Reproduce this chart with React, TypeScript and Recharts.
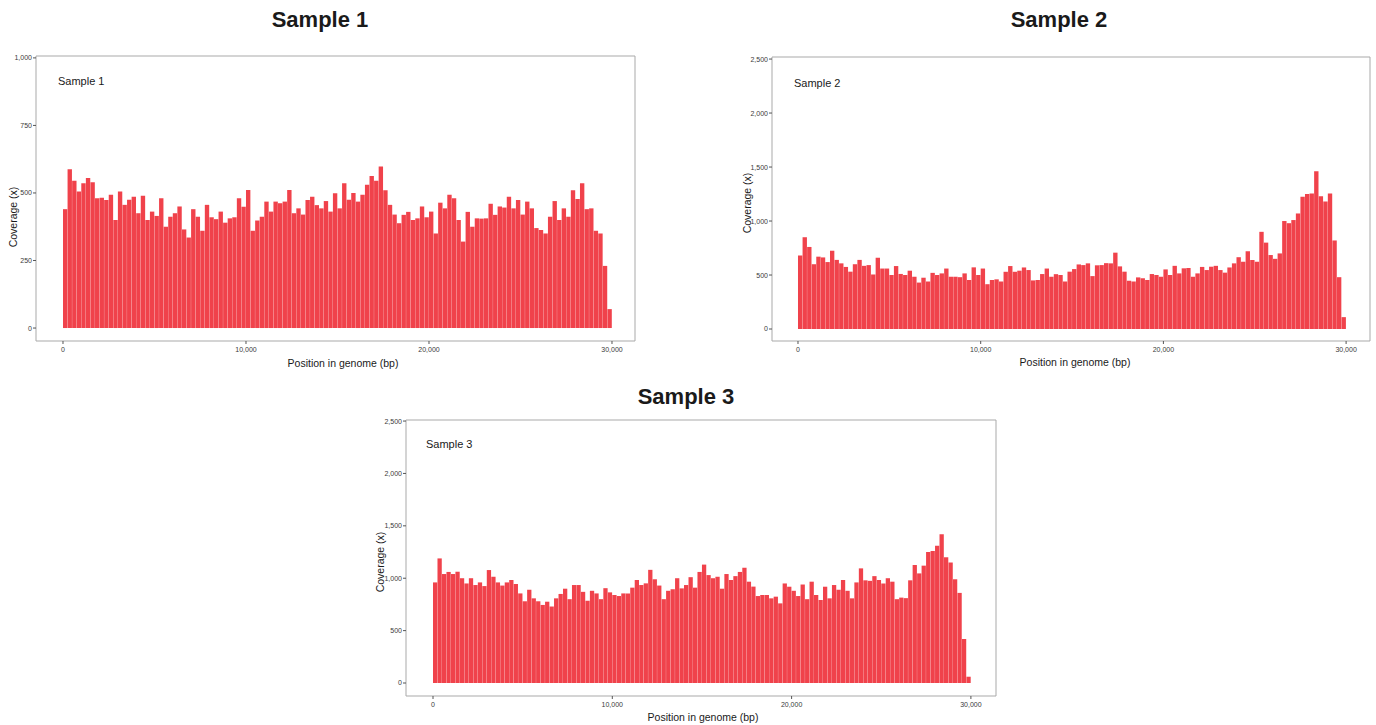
import React from 'react';
import { BarChart, Bar, XAxis, YAxis, ReferenceArea } from 'recharts';

// coverage per 250 bp bin
const BIN = 250;

const sample1 = [
  440, 588, 545, 505, 536, 555, 540, 480, 482, 474, 493, 400, 505, 456, 475, 486, 425, 490, 400, 431,
  415, 480, 375, 412, 425, 450, 365, 335, 440, 412, 360, 456, 410, 403, 431, 390, 406, 410, 480, 449,
  511, 360, 398, 412, 468, 431, 468, 462, 468, 511, 425, 443, 420, 474, 486, 455, 443, 470, 431, 499,
  443, 536, 475, 500, 468, 493, 530, 563, 545, 598, 510, 456, 420, 388, 419, 430, 400, 406, 450, 410,
  431, 350, 464, 443, 493, 480, 400, 320, 430, 375, 406, 405, 406, 460, 419, 450, 446, 486, 443, 474,
  420, 468, 443, 370, 363, 350, 412, 470, 400, 443, 412, 510, 478, 536, 440, 443, 360, 350, 230, 70,
];

const sample2 = [
  680, 850, 760, 600, 670, 663, 620, 725, 640, 608, 575, 531, 600, 640, 585, 592, 505, 660, 560, 560,
  500, 583, 510, 500, 540, 484, 430, 475, 440, 520, 500, 515, 560, 484, 484, 480, 515, 454, 571, 500,
  560, 415, 454, 460, 440, 530, 583, 530, 540, 570, 546, 450, 454, 509, 560, 484, 508, 500, 440, 531,
  555, 598, 592, 608, 490, 590, 592, 610, 608, 707, 580, 531, 447, 440, 478, 470, 454, 509, 500, 484,
  552, 500, 585, 515, 562, 565, 484, 515, 575, 546, 577, 585, 546, 522, 570, 608, 665, 623, 720, 639,
  623, 900, 800, 685, 650, 700, 1000, 980, 1009, 1070, 1225, 1250, 1256, 1460, 1230, 1180, 1256, 820, 480, 110,
];

const sample3 = [
  960, 1189, 1040, 1060, 1040, 1062, 1000, 950, 1000, 935, 960, 925, 1078, 1014, 960, 930, 960, 983, 945, 855,
  780, 890, 808, 780, 745, 776, 730, 808, 850, 900, 800, 935, 935, 870, 785, 880, 855, 800, 905, 865,
  840, 830, 855, 855, 910, 983, 935, 951, 1080, 990, 930, 800, 880, 895, 1000, 903, 935, 1010, 910, 1060,
  1130, 1030, 1000, 1014, 900, 1040, 983, 1020, 1060, 1100, 967, 920, 830, 840, 840, 808, 824, 760, 950, 919,
  880, 830, 940, 800, 967, 840, 792, 919, 808, 935, 890, 983, 880, 808, 960, 1094, 980, 975, 1020, 983,
  950, 1000, 967, 800, 815, 810, 980, 1126, 1046, 1120, 1250, 1260, 1310, 1420, 1200, 1150, 990, 860, 420, 60,
];

const xTicks = [0, 10000, 20000, 30000];
const yTicksLow = [0, 250, 500, 750, 1000];
const yTicksHigh = [0, 500, 1000, 1500, 2000, 2500];

const RED = '#f0424b';
const FONT = '"Liberation Sans", Arial, Helvetica, sans-serif';

const fmt = (v: number) => v.toLocaleString('en-US');

interface PanelProps {
  name: string;
  values: number[];
  yTicks: number[];
  xDomain: [number, number];
  yDomain: [number, number];
  left: number;
  top: number;
  plotW: number;
  plotH: number;
  padTop: number;
  nameAt: [number, number];
  yLabelAt: [number, number];
  xLabelAt: [number, number];
}

function Text({ x, y, size, children, rotate, weight, anchor }: any) {
  return (
    <div
      style={{
        position: 'absolute',
        left: x,
        top: y,
        transform: `translate(${anchor === 'start' ? '0' : '-50%'}, -50%)${rotate ? ' rotate(-90deg)' : ''}`,
        fontFamily: FONT,
        fontSize: size,
        fontWeight: weight || 400,
        color: '#1a1a1a',
        whiteSpace: 'nowrap',
        lineHeight: 1,
      }}
    >
      {children}
    </div>
  );
}

function Panel(p: PanelProps) {
  const data = p.values.map((v, i) => ({ pos: i * BIN + BIN / 2, cov: v }));
  const yAxisW = 36;
  const xAxisH = 20;
  const width = yAxisW + p.plotW + 4;
  const height = p.padTop + p.plotH + xAxisH;
  // one bin wide in pixels, minus a hairline so neighbouring bars show a faint seam
  const barSize = (BIN * p.plotW) / (p.xDomain[1] - p.xDomain[0]) - 0.2;
  const tick = { fontSize: 7, fill: '#3a3a3a', fontFamily: FONT };

  return (
    <>
      <div style={{ position: 'absolute', left: p.left, top: p.top }}>
        <BarChart
          width={width}
          height={height}
          data={data}
          margin={{ top: p.padTop, right: 4, bottom: 0, left: 0 }}
          barCategoryGap={0}
        >
          <XAxis
            dataKey="pos"
            type="number"
            domain={p.xDomain}
            ticks={xTicks}
            interval={0}
            allowDataOverflow
            height={xAxisH}
            tickSize={3}
            tickMargin={3}
            axisLine={false}
            tickLine={{ stroke: '#555' }}
            tick={tick}
            tickFormatter={fmt}
          />
          <YAxis
            type="number"
            domain={p.yDomain}
            ticks={p.yTicks}
            interval={0}
            allowDataOverflow
            width={yAxisW}
            tickSize={3}
            tickMargin={1}
            axisLine={false}
            tickLine={{ stroke: '#555' }}
            tick={tick}
            tickFormatter={fmt}
          />
          <ReferenceArea
            x1={p.xDomain[0]}
            x2={p.xDomain[1]}
            y1={p.yDomain[0]}
            y2={p.yDomain[1]}
            fill="none"
            stroke="#a9a9a9"
            strokeWidth={1}
            ifOverflow="visible"
          />
          <Bar dataKey="cov" fill={RED} barSize={barSize} isAnimationActive={false} />
        </BarChart>
      </div>
      <Text x={p.nameAt[0]} y={p.nameAt[1]} size={11} anchor="start">{p.name}</Text>
      <Text x={p.yLabelAt[0]} y={p.yLabelAt[1]} size={10.5} rotate>Coverage (x)</Text>
      <Text x={p.xLabelAt[0]} y={p.xLabelAt[1]} size={10.5}>Position in genome (bp)</Text>
    </>
  );
}

export default function App() {
  return (
    <div style={{ position: 'absolute', left: 0, top: 0, width: 1376, height: 725, background: '#fff', overflow: 'hidden' }}>
      <Text x={320} y={20} size={22} weight={700}>Sample 1</Text>
      <Text x={1059} y={20} size={22} weight={700}>Sample 2</Text>
      <Text x={686} y={397} size={22} weight={700}>Sample 3</Text>

      <Panel
        name="Sample 1"
        values={sample1}
        yTicks={yTicksLow}
        xDomain={[-1475, 31257]}
        yDomain={[-48, 1007]}
        left={0}
        top={50}
        plotW={599}
        plotH={285}
        padTop={6}
        nameAt={[58, 81]}
        yLabelAt={[13, 217]}
        xLabelAt={[343, 363]}
      />
      <Panel
        name="Sample 2"
        values={sample2}
        yTicks={yTicksHigh}
        xDomain={[-1423, 31308]}
        yDomain={[-111, 2519]}
        left={736}
        top={50}
        plotW={598}
        plotH={284}
        padTop={7}
        nameAt={[794, 83]}
        yLabelAt={[747, 203]}
        xLabelAt={[1075, 362]}
      />
      <Panel
        name="Sample 3"
        values={sample3}
        yTicks={yTicksHigh}
        xDomain={[-1506, 31400]}
        yDomain={[-124, 2510]}
        left={370}
        top={414}
        plotW={590}
        plotH={276}
        padTop={6}
        nameAt={[426, 444]}
        yLabelAt={[380, 562]}
        xLabelAt={[703, 717]}
      />
    </div>
  );
}
